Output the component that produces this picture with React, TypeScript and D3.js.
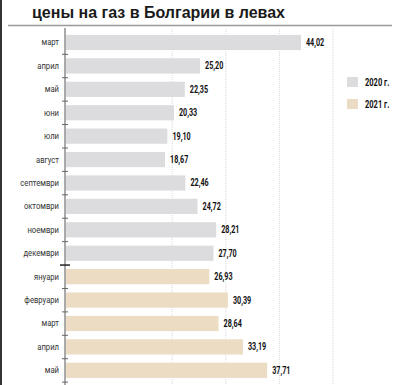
import React, { useEffect, useRef } from 'react';
import * as d3 from 'd3';

const months2020 = ['март', 'април', 'май', 'юни', 'юли', 'август', 'септември', 'октомври', 'ноември', 'декември'];
const values2020 = [44.02, 25.2, 22.35, 20.33, 19.1, 18.67, 22.46, 24.72, 28.21, 27.7];
const months2021 = ['януари', 'февруари', 'март', 'април', 'май'];
const values2021 = [26.93, 30.39, 28.64, 33.19, 37.71];
const gridTicks = [20, 30, 40, 50];
const legendLabels = ['2020 г.', '2021 г.'];

const sans = 'Roboto, "Liberation Sans", sans-serif';

const App = () => {
  const svgRef = useRef(null);

  useEffect(() => {
    const svg = d3.select(svgRef.current);
    svg.selectAll('*').remove();

    const rows = [
      ...months2020.map((m, i) => ({ key: `a${i}`, label: m, value: values2020[i], year: 0 })),
      ...months2021.map((m, i) => ({ key: `b${i}`, label: m, value: values2021[i], year: 1 })),
    ];
    const colors = ['#dcdcde', '#ecdcc3'];

    const x = d3.scaleLinear().domain([0, 50]).range([65, 333]);
    const y = d3.scaleBand()
      .domain(rows.map((d) => d.key))
      .range([30.9, 381.9])
      .paddingInner(0.35)
      .paddingOuter(0.17);

    // frame, title, rule
    svg.append('rect').attr('x', 0).attr('y', 0).attr('width', 400).attr('height', 385).attr('fill', '#fff');
    svg.append('line').attr('x1', 1).attr('x2', 1).attr('y1', 0).attr('y2', 385)
      .attr('stroke', '#333').attr('stroke-width', 2);
    svg.append('text')
      .attr('x', 32).attr('y', 18)
      .attr('font-family', '"Liberation Sans", Arial, sans-serif')
      .attr('font-weight', 'bold').attr('font-size', 16)
      .attr('fill', '#1a1a1a')
      .text('цены на газ в Болгарии в левах');
    svg.append('line').attr('x1', 8).attr('x2', 392).attr('y1', 25.5).attr('y2', 25.5)
      .attr('stroke', '#999').attr('stroke-width', 1.5);

    // gridlines
    svg.append('g').selectAll('line').data(gridTicks).join('line')
      .attr('x1', (d) => x(d)).attr('x2', (d) => x(d))
      .attr('y1', 29).attr('y2', 385)
      .attr('stroke', '#d8d8d8').attr('stroke-dasharray', '1,1');

    // bars
    svg.append('g').selectAll('rect').data(rows).join('rect')
      .attr('x', x(0) + 1)
      .attr('y', (d) => y(d.key))
      .attr('width', (d) => x(d.value) - x(0) - 1)
      .attr('height', y.bandwidth())
      .attr('fill', (d) => colors[d.year]);

    // value labels (condensed look via horizontal scale)
    svg.append('g').selectAll('text').data(rows).join('text')
      .attr('transform', (d) => `translate(${x(d.value) + 5},${y(d.key) + y.bandwidth() / 2 + 3.5}) scale(0.72,1)`)
      .attr('font-family', sans).attr('font-weight', 'bold').attr('font-size', 10)
      .attr('fill', '#111')
      .text((d) => d.value.toFixed(2).replace('.', ','));

    // category labels
    svg.append('g').selectAll('text').data(rows).join('text')
      .attr('transform', (d) => `translate(59,${y(d.key) + y.bandwidth() / 2 + 3}) scale(0.85,1)`)
      .attr('text-anchor', 'end')
      .attr('font-family', sans).attr('font-size', 9)
      .attr('fill', '#333')
      .text((d) => d.label);

    // axis with ticks between rows
    const step = y.step();
    const top = y.range()[0];
    svg.append('line').attr('x1', 65).attr('x2', 65).attr('y1', 28).attr('y2', 385)
      .attr('stroke', '#555').attr('stroke-width', 1);
    svg.append('g').selectAll('line').data(d3.range(1, rows.length + 1)).join('line')
      .attr('x1', (i) => (i === months2020.length ? 60 : 62))
      .attr('x2', (i) => (i === months2020.length ? 70 : 68))
      .attr('y1', (i) => top + i * step).attr('y2', (i) => top + i * step)
      .attr('stroke', (i) => (i === months2020.length ? '#222' : '#666'))
      .attr('stroke-width', (i) => (i === months2020.length ? 1.5 : 1));

    // legend
    const legend = svg.append('g').selectAll('g').data(legendLabels).join('g')
      .attr('transform', (d, i) => `translate(347,${77 + i * 22})`);
    legend.append('rect').attr('width', 11).attr('height', 10)
      .attr('fill', (d, i) => colors[i]);
    legend.append('text')
      .attr('transform', 'translate(18,8.5) scale(0.75,1)')
      .attr('font-family', sans).attr('font-weight', 'bold').attr('font-size', 10)
      .attr('fill', '#111')
      .text((d) => d);
  }, []);

  return (
    <svg ref={svgRef} width={400} height={385} style={{ position: 'absolute', left: 0, top: 0 }}></svg>
  );
};

export default App;
